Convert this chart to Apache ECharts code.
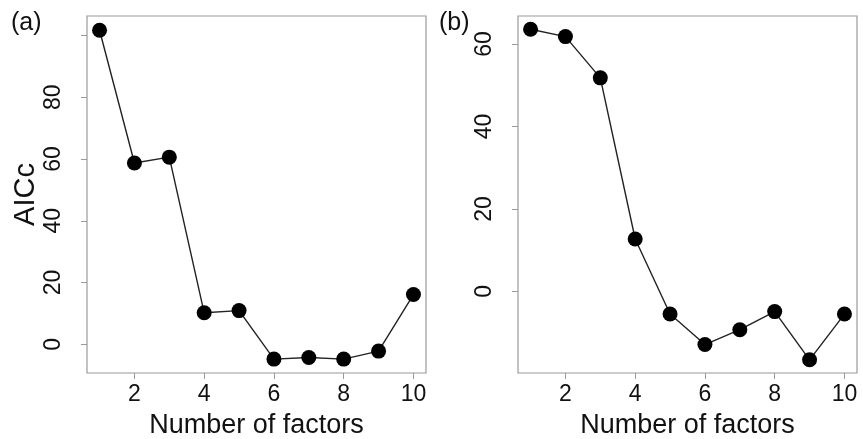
<!DOCTYPE html>
<html>
<head>
<meta charset="utf-8">
<script src="https://cdn.jsdelivr.net/npm/echarts@6/dist/echarts.min.js"></script>
<style>
html,body{margin:0;padding:0;background:#fff;}
#chart{width:863px;height:439px;}
</style>
</head>
<body>
<div id="chart"></div>
<script>
// Data
var factors = [1, 2, 3, 4, 5, 6, 7, 8, 9, 10];
var aiccA = [101.7, 58.7, 60.6, 10.2, 10.9, -4.8, -4.3, -4.8, -2.2, 16.1];
var aiccB = [63.6, 61.8, 51.8, 12.7, -5.5, -12.9, -9.3, -4.9, -16.6, -5.5];
var xTicks = [2, 4, 6, 8, 10];
var yTicksA = [0, 20, 40, 60, 80, 100];
var yLabelsA = [0, 20, 40, 60, 80];
var yTicksB = [0, 20, 40, 60];
var panelLabels = ['(a)', '(b)'];
var xTitle = 'Number of factors';
var yTitle = 'AICc';

var FONT = 'Liberation Sans';
var boxColor = '#9a9a9a';

function pairs(xs, ys) { return xs.map(function (x, i) { return [x, ys[i]]; }); }

function xAxisOf(gi) {
  return {
    gridIndex: gi, type: 'value', min: 0.64, max: 10.36, position: 'bottom',
    name: xTitle, nameLocation: 'middle', nameGap: 39,
    nameTextStyle: { fontFamily: FONT, fontSize: 27, color: '#111' },
    axisLine: { show: false, onZero: false },
    axisTick: { show: true, length: 6, lineStyle: { color: boxColor }, customValues: xTicks },
    axisLabel: { fontFamily: FONT, fontSize: 23, color: '#111', margin: 10, customValues: xTicks },
    splitLine: { show: false }
  };
}
function yAxisOf(gi, mn, mx, ticks, labels, name) {
  return {
    gridIndex: gi, type: 'value', min: mn, max: mx, position: 'left',
    name: name, nameLocation: 'middle', nameGap: 47, nameRotate: 90,
    nameTextStyle: { fontFamily: FONT, fontSize: 29, color: '#111' },
    axisLine: { show: false, onZero: false },
    axisTick: { show: true, length: 6, lineStyle: { color: boxColor }, customValues: ticks },
    axisLabel: { fontFamily: FONT, fontSize: 23, color: '#111', margin: 22, rotate: 90, customValues: labels },
    splitLine: { show: false }
  };
}

var chart = echarts.init(document.getElementById('chart'), null, { renderer: 'canvas' });
chart.setOption({
  animation: false,
  backgroundColor: '#fff',
  grid: [
    { left: 87, top: 16, width: 339, height: 357, outerBoundsMode: 'none', containLabel: false, show: true, borderColor: boxColor, borderWidth: 1.2, backgroundColor: 'transparent' },
    { left: 518, top: 16, width: 339, height: 357, outerBoundsMode: 'none', containLabel: false, show: true, borderColor: boxColor, borderWidth: 1.2, backgroundColor: 'transparent' }
  ],
  xAxis: [xAxisOf(0), xAxisOf(1)],
  yAxis: [
    yAxisOf(0, -9.3, 106.3, yTicksA, yLabelsA, yTitle),
    yAxisOf(1, -19.8, 66.8, yTicksB, yTicksB, '')
  ],
  graphic: [
    { type: 'text', left: 11, top: 11, style: { text: panelLabels[0], font: '25px "Liberation Sans"', fill: '#111' } },
    { type: 'text', left: 439, top: 11, style: { text: panelLabels[1], font: '25px "Liberation Sans"', fill: '#111' } }
  ],
  series: [
    { type: 'line', xAxisIndex: 0, yAxisIndex: 0, data: pairs(factors, aiccA),
      symbol: 'circle', symbolSize: 15, itemStyle: { color: '#000' },
      lineStyle: { color: '#222', width: 1.4 } },
    { type: 'line', xAxisIndex: 1, yAxisIndex: 1, data: pairs(factors, aiccB),
      symbol: 'circle', symbolSize: 15, itemStyle: { color: '#000' },
      lineStyle: { color: '#222', width: 1.4 } }
  ]
});
</script>
</body>
</html>
